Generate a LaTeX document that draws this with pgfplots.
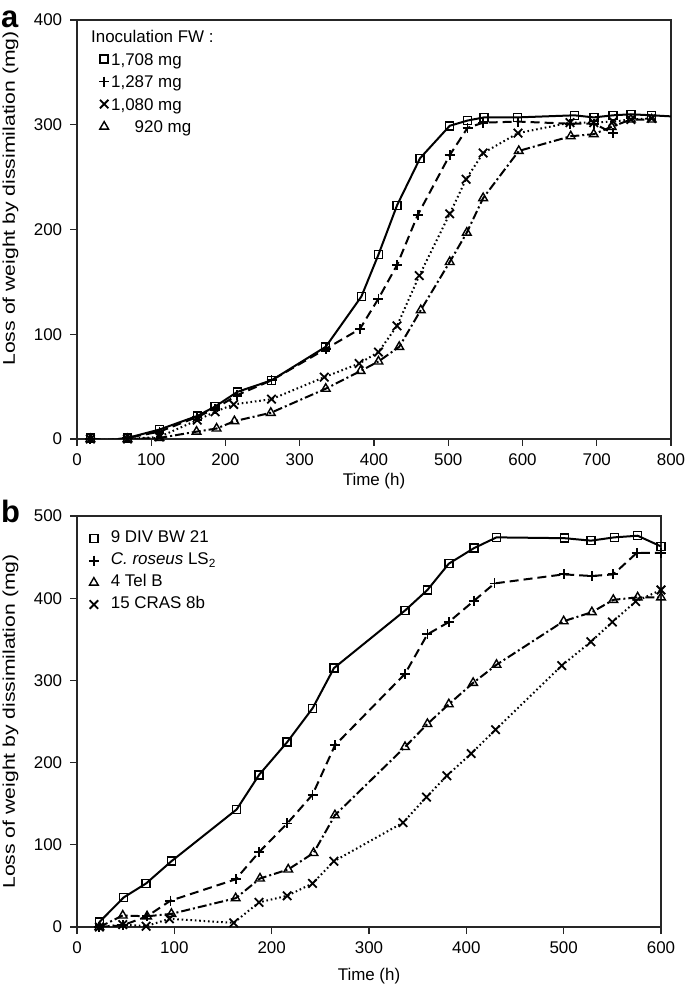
\documentclass[border=0pt]{standalone}
\usepackage{fontspec}
\setmainfont{Liberation Sans}
\usepackage{graphicx}
\usepackage{pgfplots}
\pgfplotsset{compat=1.18}

\pgfplotstableread{
x y
18 1
41 -2
68 1
111 9
162 22
186 31
216 45
262 56
335 88
383 136
406 176
431 223
462 268
502 299
526 304
548 307
593 307
670 309
696 307
722 309
746 310
774 309
}\aSq
\pgfplotstableread{
x y
18 0
41 -1
68 1
111 7
162 21
186 29
216 42
262 56
335 86
381 105
406 134
431 166
459 214
502 271
526 297
547 302
594 303
664 301
696 301
722 292
}\aPl
\pgfplotstableread{
x y
18 0
41 -1
68 0
111 2
162 18
186 26
211 33
262 38
333 59
380 72
406 83
431 108
461 156
502 215
524 248
547 273
594 292
664 302
696 302
722 303
746 305
774 306
}\aX
\pgfplotstableread{
x y
18 0
41 -1
68 0
111 1
161 7
188 10
212 17
261 25
335 48
382 65
406 74
434 88
463 123
502 169
525 197
547 230
595 275
665 289
696 291
720 298
746 305
774 305
}\aTr

\pgfplotstableread{
x y
23 6
48 36
71 53
97 80
164 143
187 185
216 225
242 266
264 315
337 385
360 410
382 442
408 461
431 474
501 473
528 470
552 474
576 476
600 463
}\bSq
\pgfplotstableread{
x y
23 0
47 2
72 13
96 32
163 58
187 91
216 126
242 161
265 221
337 308
360 356
382 371
408 397
429 418
500 429
529 427
551 429
575 455
600 455
}\bPl
\pgfplotstableread{
x y
23 0
47 14
72 13
97 16
163 35
188 59
217 70
243 90
265 136
337 219
360 247
382 271
407 297
431 319
500 372
529 383
551 398
576 401
600 401
}\bTr
\pgfplotstableread{
x y
23 0
47 3
71 1
95 10
161 5
187 30
216 38
242 53
264 80
335 127
359 158
380 184
405 211
430 240
498 318
528 347
550 371
574 396
600 410
}\bX

\pgfplotsset{
 common/.style={
  scale only axis,
  axis line style={line width=1.1bp, black!85},
  tick align=outside, xtick pos=bottom, ytick pos=left,
  major tick length=7bp,
  every tick/.style={line width=1.1bp, black!85},
  tick label style={font=\fontsize{17}{20}\selectfont},
  yticklabel style={xshift=-2bp},
  xticklabel style={yshift=-2bp},
  label style={font=\fontsize{17}{20}\selectfont},
  /pgf/number format/assume math mode=true,
  /pgf/number format/1000 sep={},
  legend cell align=left,
  legend image code/.code={\draw[##1] plot coordinates {(0,0)};},
  xlabel={Time (h)},
  ylabel={\scalebox{1.25}[1]{Loss of weight by dissimilation (mg)}},
 },
 sq/.style={black, line width=2bp, solid, mark=square, mark size=4bp, mark options={solid, line width=1.5bp}},
 pl/.style={black, line width=2bp, dash pattern=on 9bp off 5bp, mark=+, mark size=5bp, mark options={solid, line width=1.8bp}},
 xx/.style={black, line width=2bp, dash pattern=on 1.6bp off 2.8bp, mark=x, mark size=6bp, mark options={solid, line width=1.8bp}},
 tr/.style={black, line width=2bp, dash pattern=on 9bp off 3bp on 2bp off 3bp, mark=triangle, mark size=5bp, mark options={solid, line width=1.4bp}},
}

\begin{document}
\fontsize{17}{20}\selectfont
\begin{tikzpicture}[x=1bp,y=1bp]

\node[anchor=base west, font=\fontsize{31}{31}\selectfont\bfseries, inner sep=0pt] at (1bp,959bp) {a};
\node[anchor=base west, font=\fontsize{31}{31}\selectfont\bfseries, inner sep=0pt] at (1bp,464bp) {b};

\begin{axis}[common,
  at={(77bp,548bp)}, anchor=south west, width=594bp, height=419bp,
  xmin=0, xmax=800, ymin=0, ymax=400,
  xtick={0,100,...,800}, ytick={0,100,...,400},
  xlabel style={at={(axis description cs:0.5,-0.1)}, anchor=center},
  ylabel style={at={(axis description cs:-0.112,0.574)}, anchor=center},
  legend style={draw=none, fill=none, font=\fontsize{17}{20}\selectfont,
    at={(axis description cs:0.037,0.978)}, anchor=north west,
    row sep=4bp, column sep=0bp, inner sep=0pt,
    nodes={inner sep=1bp, text height=12.5bp, text depth=4bp}},
]
\addlegendimage{empty legend}
\addlegendentry{\hspace{-19bp}Inoculation FW :}
\addplot[sq] table {\aSq};
\addlegendentry{\hspace{1bp}1,708 mg}
\addplot[pl] table {\aPl};
\addlegendentry{\hspace{1bp}1,287 mg}
\addplot[xx] table {\aX};
\addlegendentry{\hspace{1bp}1,080 mg}
\addplot[tr] table {\aTr};
\addlegendentry{\hspace{1bp}\phantom{1,0}920 mg}
\addplot[sq, mark=none, forget plot] coordinates {(774,309) (800,308)};
\end{axis}

\begin{axis}[common,
  at={(77bp,60bp)}, anchor=south west, width=584bp, height=411bp,
  xmin=0, xmax=600, ymin=0, ymax=500,
  xtick={0,100,...,600}, ytick={0,100,...,500},
  xlabel style={at={(axis description cs:0.5,-0.119)}, anchor=center},
  ylabel style={at={(axis description cs:-0.114,0.5)}, anchor=center},
  legend style={draw=none, fill=none, font=\fontsize{17}{20}\selectfont,
    at={(axis description cs:0.02,0.968)}, anchor=north west,
    row sep=3.5bp, column sep=0bp, inner sep=0pt,
    nodes={inner sep=1bp, text height=12.5bp, text depth=4bp}},
]
\addplot[sq] table {\bSq};
\addlegendentry{\hspace{11bp}9 DIV BW 21}
\addplot[pl] table {\bPl};
\addlegendentry{\hspace{11bp}\textit{C. roseus} LS\textsubscript{2}}
\addplot[tr] table {\bTr};
\addlegendentry{\hspace{11bp}4 Tel B}
\addplot[xx] table {\bX};
\addlegendentry{\hspace{11bp}15 CRAS 8b}
\end{axis}

\pgfresetboundingbox
\path[use as bounding box] (0bp,0bp) rectangle (685bp,987bp);
\end{tikzpicture}
\end{document}
